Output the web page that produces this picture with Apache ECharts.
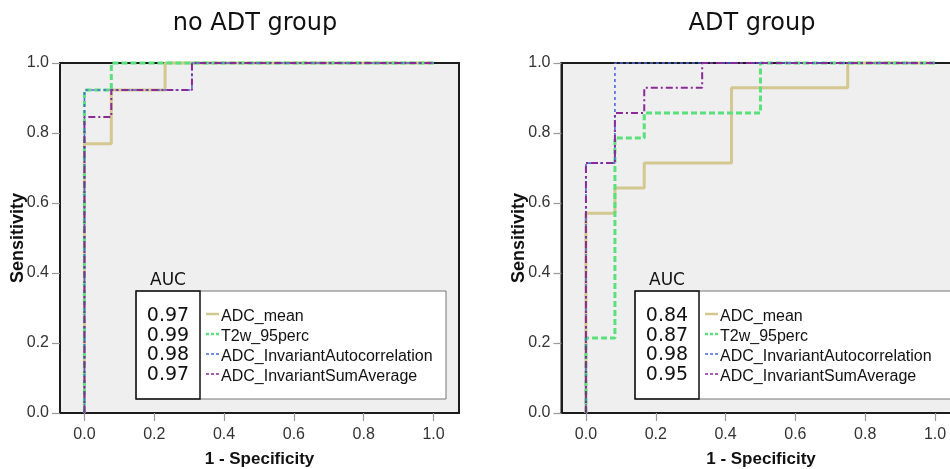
<!DOCTYPE html>
<html><head><meta charset="utf-8">
<script src="https://cdn.jsdelivr.net/npm/echarts@6/dist/echarts.min.js"></script>
<style>html,body{margin:0;padding:0;background:#fff}#c{width:950px;height:469px}</style>
</head><body><div id="c"></div>
<script>
// ---- data ----
const panelTitles = ['no ADT group', 'ADT group'];
const seriesNames = ['ADC_mean', 'T2w_95perc', 'ADC_InvariantAutocorrelation', 'ADC_InvariantSumAverage'];
const xTickValues = [0, 0.2, 0.4, 0.6, 0.8, 1.0];

// no ADT group: ROC corner points (1 - specificity, sensitivity)
const noAdtMeanX = [0, 0, 0.077, 0.077, 0.231, 0.231, 1];
const noAdtMeanY = [0, 0.769, 0.769, 0.923, 0.923, 1, 1];
const noAdtT2X = [0, 0, 0.077, 0.077, 1];
const noAdtT2Y = [0, 0.923, 0.923, 1, 1];
const noAdtAutoX = [0, 0, 0.308, 0.308, 1];
const noAdtAutoY = [0, 0.923, 0.923, 1, 1];
const noAdtSumX = [0, 0, 0.077, 0.077, 0.308, 0.308, 1];
const noAdtSumY = [0, 0.846, 0.846, 0.923, 0.923, 1, 1];
const noAdtAuc = ['0.97', '0.99', '0.98', '0.97'];

// ADT group
const adtMeanX = [0, 0, 0.083, 0.083, 0.167, 0.167, 0.417, 0.417, 0.75, 0.75, 1];
const adtMeanY = [0, 0.571, 0.571, 0.643, 0.643, 0.714, 0.714, 0.929, 0.929, 1, 1];
const adtT2X = [0, 0, 0.083, 0.083, 0.167, 0.167, 0.5, 0.5, 1];
const adtT2Y = [0, 0.214, 0.214, 0.786, 0.786, 0.857, 0.857, 1, 1];
const adtAutoX = [0, 0, 0.083, 0.083, 1];
const adtAutoY = [0, 0.714, 0.714, 1, 1];
const adtSumX = [0, 0, 0.083, 0.083, 0.167, 0.167, 0.333, 0.333, 1];
const adtSumY = [0, 0.714, 0.714, 0.857, 0.857, 0.929, 0.929, 1, 1];
const adtAuc = ['0.84', '0.87', '0.98', '0.95'];

// ---- styles ----
const lineColors = ['#d3c88f', '#5ae07c', '#4a68dc', '#8a2a96'];
const lineWidths = [3, 3, 1.6, 2];
const lineDashes = ['solid', [6, 3], [3, 3], [7, 3, 2, 3]];

const zip = (xs, ys) => xs.map((x, i) => [x, ys[i]]);
const panels = [
  { xs: [noAdtMeanX, noAdtT2X, noAdtAutoX, noAdtSumX], ys: [noAdtMeanY, noAdtT2Y, noAdtAutoY, noAdtSumY], auc: noAdtAuc },
  { xs: [adtMeanX, adtT2X, adtAutoX, adtSumX], ys: [adtMeanY, adtT2Y, adtAutoY, adtSumY], auc: adtAuc }
];

const gridLefts = [60, 561.5];
const gridTop = 63, gridH = 350, gridW = 399;
const FONT = "'Liberation Sans', Arial, sans-serif";
const FONT2 = "'DejaVu Sans', Verdana, sans-serif";

const grids = gridLefts.map(l => ({
  left: l, top: gridTop, width: gridW, height: gridH, outerBoundsMode: 'none', containLabel: false,
  show: true, backgroundColor: '#efefef', borderColor: '#1c1c1c', borderWidth: 2
}));

const xAxes = gridLefts.map((l, i) => ({
  type: 'value', gridIndex: i, min: -0.07, max: 1.073,
  name: '1 - Specificity', nameLocation: 'middle', nameGap: 38, nameMoveOverlap: false,
  nameTextStyle: { fontFamily: FONT, fontWeight: 'bold', fontSize: 17, color: '#111' },
  axisLine: { show: true, onZero: false, lineStyle: { color: '#1c1c1c', width: 2 } }, splitLine: { show: false },
  axisTick: { show: true, inside: false, length: 8, lineStyle: { color: '#999', width: 1.2 }, customValues: xTickValues },
  axisLabel: { customValues: xTickValues, formatter: v => v.toFixed(1), fontFamily: FONT, fontSize: 16, color: '#333', margin: 14 }
}));

const yAxes = gridLefts.map((l, i) => ({
  type: 'value', gridIndex: i, min: 0, max: 1, interval: 0.2,
  name: 'Sensitivity', nameLocation: 'middle', nameGap: 33, nameMoveOverlap: false,
  nameTextStyle: { fontFamily: FONT, fontWeight: 'bold', fontSize: 18, color: '#111' },
  axisLine: { show: true, onZero: false, lineStyle: { color: '#1c1c1c', width: 2 } }, splitLine: { show: false },
  axisTick: { show: true, inside: false, length: 8, lineStyle: { color: '#999', width: 1.2 } },
  axisLabel: { formatter: v => v.toFixed(1), fontFamily: FONT, fontSize: 16, color: '#333', margin: 11 }
}));

const series = [];
panels.forEach((p, pi) => {
  seriesNames.forEach((n, si) => {
    series.push({
      type: 'line', name: n, xAxisIndex: pi, yAxisIndex: pi,
      data: zip(p.xs[si], p.ys[si]), symbol: 'none', clip: false, animation: false,
      lineStyle: { color: lineColors[si], width: lineWidths[si], type: lineDashes[si] }
    });
  });
});

// legend boxes and titles as graphic
const graphic = [];
const titleCenters = [255, 752];
panelTitles.forEach((t, i) => {
  graphic.push({ type: 'text', x: titleCenters[i], y: 24, style: { text: t, font: "24px 'DejaVu Sans', Verdana, sans-serif", fill: '#111', align: 'center', verticalAlign: 'middle' } });
});
const legendLefts = [136, 635];
const legendWidths = [310, 330];
panels.forEach((p, pi) => {
  const L = legendLefts[pi], T = 291, H = 108, innerW = 64;
  graphic.push({ type: 'rect', z: 100, shape: { x: L, y: T, width: legendWidths[pi], height: H }, style: { fill: '#fff', stroke: '#777', lineWidth: 1 } });
  graphic.push({ type: 'rect', z: 101, shape: { x: L, y: T, width: innerW, height: H }, style: { fill: 'none', stroke: '#111', lineWidth: 1.5 } });
  graphic.push({ type: 'text', z: 101, x: L + innerW / 2, y: 281, style: { text: 'AUC', font: "17px " + FONT2, fill: '#111', align: 'center', verticalAlign: 'middle' } });
  p.auc.forEach((a, k) => {
    graphic.push({ type: 'text', z: 101, x: L + innerW / 2, y: 316 + k * 19.7, style: { text: a, font: "19px " + FONT2, fill: '#111', align: 'center', verticalAlign: 'middle' } });
  });
  seriesNames.forEach((n, k) => {
    const y = 317 + k * 20;
    graphic.push({ type: 'line', z: 101, shape: { x1: L + 70, y1: y - 3, x2: L + 83, y2: y - 3 }, style: { stroke: lineColors[k], lineWidth: k < 2 ? 2.5 : 1.5, lineDash: Array.isArray(lineDashes[k]) ? [3, 2] : null } });
    graphic.push({ type: 'text', z: 101, x: L + 85, y: y, style: { text: n, font: "16px " + FONT, fill: '#111', align: 'left', verticalAlign: 'middle' } });
  });
});

const chart = echarts.init(document.getElementById('c'));
chart.setOption({
  animation: false,
  backgroundColor: '#fff',
  grid: grids, xAxis: xAxes, yAxis: yAxes, series: series, graphic: graphic
});
</script></body></html>
